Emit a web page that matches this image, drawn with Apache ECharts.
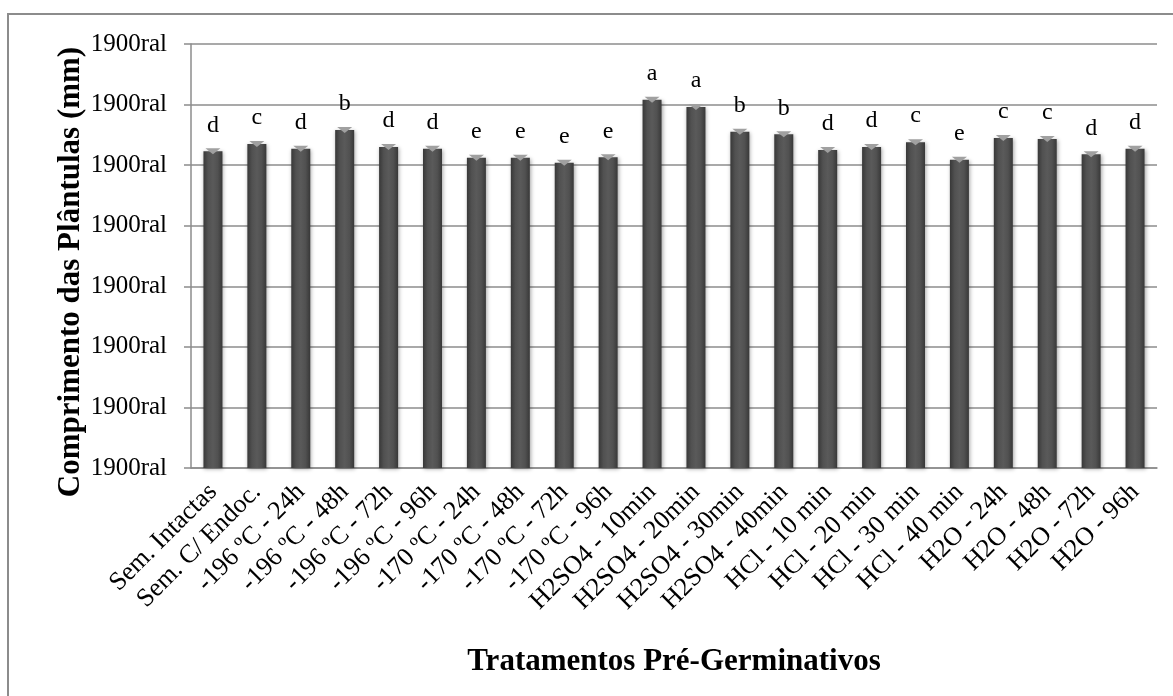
<!DOCTYPE html>
<html>
<head>
<meta charset="utf-8">
<script src="https://cdn.jsdelivr.net/npm/echarts@6/dist/echarts.min.js"></script>
<style>html,body{margin:0;padding:0;background:#fff;}#c{width:1173px;height:696px;}</style>
</head>
<body>
<div id="c"></div>
<script>
const categories = ['Sem. Intactas','Sem. C/ Endoc.','-196 ºC - 24h','-196 ºC - 48h','-196 ºC - 72h','-196 ºC - 96h','-170 ºC - 24h','-170 ºC - 48h','-170 ºC - 72h','-170 ºC - 96h','H2SO4 - 10min','H2SO4 - 20min','H2SO4 - 30min','H2SO4 - 40min','HCl - 10 min','HCl - 20 min','HCl - 30 min','HCl - 40 min','H2O - 24h','H2O - 48h','H2O - 72h','H2O - 96h'];
const values = [5.23,5.35,5.27,5.58,5.30,5.27,5.12,5.12,5.04,5.13,6.08,5.96,5.55,5.51,5.25,5.30,5.38,5.09,5.45,5.43,5.18,5.27];
const letters = ['d','c','d','b','d','d','e','e','e','e','a','a','b','b','d','d','c','e','c','c','d','d'];
const yTickLabels = ['1900ral','1900ral','1900ral','1900ral','1900ral','1900ral','1900ral','1900ral'];
const yTitle = 'Comprimento das Plântulas (mm)';
const xTitle = 'Tratamentos Pré-Germinativos';

const serif = '"Liberation Serif", "DejaVu Serif", serif';
const chart = echarts.init(document.getElementById('c'), null, {renderer:'canvas'});
chart.setOption({
  backgroundColor:'#fff',
  animation:false,
  graphic:[
    {type:'rect', shape:{x:8,y:14,width:1200,height:720}, style:{fill:'none', stroke:'#8c8c8c', lineWidth:2}, silent:true},
    {type:'text', x:71, y:272, rotation:Math.PI/2, style:{text:yTitle, fontFamily:serif, fontWeight:'bold', fontSize:31, fill:'#000', textAlign:'center', textVerticalAlign:'middle'}, silent:true}
  ],
  grid:{left:191, right:16, top:44, bottom:228},
  xAxis:{
    type:'category', data:categories,
    name:xTitle, nameLocation:'middle', nameGap:178,
    nameTextStyle:{fontFamily:serif, fontWeight:'bold', fontSize:31, color:'#000'},
    axisLine:{lineStyle:{color:'#8c8c8c', width:1.5}},
    axisTick:{show:false},
    axisLabel:{rotate:45, interval:0, margin:20, fontFamily:serif, fontSize:26, color:'#000'}
  },
  yAxis:{
    type:'value', min:0, max:7, interval:1,
    axisLine:{show:true, lineStyle:{color:'#8c8c8c', width:1.5}},
    axisTick:{show:true, length:7, lineStyle:{color:'#8c8c8c', width:1.5}},
    splitLine:{lineStyle:{color:'#8c8c8c', width:1.5}},
    axisLabel:{margin:24, fontFamily:serif, fontSize:25, color:'#000', formatter:(v,i)=>yTickLabels[i]}
  },
  series:[
    {type:'bar', data:values, barWidth:19, z:2,
     itemStyle:{color:new echarts.graphic.LinearGradient(0,0,1,0,[{offset:0,color:'#383838'},{offset:0.25,color:'#515151'},{offset:0.5,color:'#5a5a5a'},{offset:0.75,color:'#515151'},{offset:1,color:'#383838'}]),
       shadowColor:'rgba(0,0,0,0.35)', shadowBlur:4, shadowOffsetX:1, shadowOffsetY:1},
     label:{show:true, position:'top', distance:14, fontFamily:serif, fontSize:24, color:'#000', formatter:p=>letters[p.dataIndex]}
    },
    {type:'pictorialBar', data:values, symbol:'triangle', symbolRotate:180, symbolSize:[15,6], symbolPosition:'end', symbolOffset:[0,'-50%'], z:3, barGap:'-100%',
     itemStyle:{color:'#a0a0a0'}, silent:true}
  ]
});
</script>
</body>
</html>
